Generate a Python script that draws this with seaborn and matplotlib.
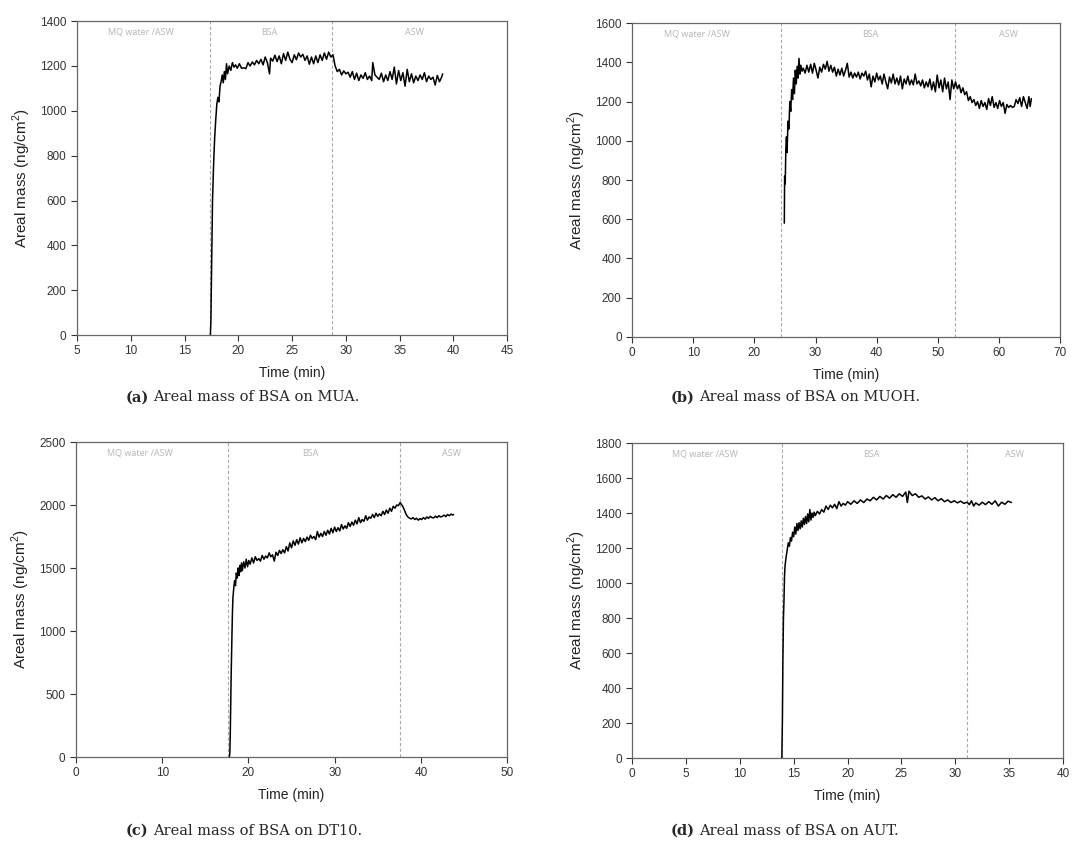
import pandas as pd
import matplotlib
matplotlib.use("Agg")
import matplotlib.pyplot as plt
import seaborn as sns

# ---- data (time in min, areal mass in ng/cm2) ----
a_time = [17.40, 17.45, 17.50, 17.55, 17.60, 17.70, 17.80, 17.90, 18.00, 18.10, 18.20, 18.30, 18.40, 18.50,
          18.60, 18.70, 18.80, 18.90, 19.00, 19.15, 19.30, 19.45, 19.60, 19.75, 19.90, 20.10, 20.30, 20.50,
          20.70, 20.90, 21.10, 21.30, 21.50, 21.70, 21.90, 22.10, 22.30, 22.50, 22.70, 22.90, 23.00, 23.20,
          23.40, 23.60, 23.80, 24.00, 24.20, 24.40, 24.60, 24.80, 25.00, 25.20, 25.40, 25.60, 25.80, 26.00,
          26.20, 26.40, 26.60, 26.80, 27.00, 27.20, 27.40, 27.60, 27.80, 28.00, 28.20, 28.40, 28.60, 28.80,
          29.00, 29.20, 29.40, 29.60, 29.80, 30.00, 30.20, 30.40, 30.60, 30.80, 31.00, 31.20, 31.40, 31.60,
          31.80, 32.00, 32.20, 32.40, 32.50, 32.70, 32.90, 33.10, 33.30, 33.50, 33.70, 33.90, 34.10, 34.30,
          34.50, 34.70, 34.90, 35.10, 35.30, 35.50, 35.70, 35.90, 36.10, 36.30, 36.50, 36.70, 36.90, 37.10,
          37.30, 37.50, 37.70, 37.90, 38.10, 38.30, 38.50, 38.70, 38.90, 39.00]
a_mass = [0, 60, 250, 420, 600, 760, 880, 960, 1030, 1060, 1040, 1110, 1130, 1160,
          1125, 1175, 1140, 1210, 1165, 1200, 1180, 1215, 1195, 1205, 1190, 1210, 1190, 1192,
          1188, 1215, 1200, 1218, 1205, 1225, 1210, 1230, 1205, 1240, 1215, 1165, 1235, 1222,
          1248, 1220, 1245, 1210, 1255, 1225, 1262, 1230, 1215, 1250, 1228, 1258, 1240, 1252,
          1225, 1245, 1208, 1240, 1210, 1245, 1215, 1250, 1225, 1258, 1230, 1262, 1240, 1250,
          1200, 1175, 1185, 1160, 1178, 1165, 1172, 1150, 1175, 1140, 1168, 1135, 1160, 1145,
          1170, 1140, 1155, 1135, 1215, 1160, 1150, 1140, 1168, 1130, 1160, 1135, 1175, 1140,
          1195, 1120, 1180, 1135, 1170, 1110, 1185, 1130, 1165, 1125, 1155, 1135, 1160, 1140,
          1170, 1130, 1155, 1140, 1150, 1115, 1158, 1130, 1150, 1165]

b_time = [24.90, 24.95, 25.05, 25.15, 25.25, 25.35, 25.50, 25.65, 25.80, 25.95, 26.10, 26.25, 26.40, 26.55,
          26.70, 26.85, 27.00, 27.15, 27.30, 27.45, 27.60, 27.80, 28.00, 28.30, 28.60, 28.90, 29.20, 29.50,
          29.80, 30.10, 30.40, 30.70, 31.00, 31.30, 31.60, 31.90, 32.20, 32.50, 32.80, 33.10, 33.40, 33.70,
          34.00, 34.30, 34.60, 34.90, 35.20, 35.50, 35.80, 36.10, 36.40, 36.70, 37.00, 37.30, 37.60, 37.90,
          38.20, 38.50, 38.80, 39.10, 39.40, 39.70, 40.00, 40.30, 40.60, 40.90, 41.20, 41.50, 41.80, 42.10,
          42.40, 42.70, 43.00, 43.30, 43.60, 43.90, 44.20, 44.50, 44.80, 45.10, 45.40, 45.70, 46.00, 46.30,
          46.60, 46.90, 47.20, 47.50, 47.80, 48.10, 48.40, 48.70, 49.00, 49.30, 49.60, 49.90, 50.20, 50.50,
          50.80, 51.10, 51.40, 51.70, 52.00, 52.30, 52.60, 52.90, 53.20, 53.50, 53.80, 54.10, 54.40, 54.70,
          55.00, 55.30, 55.60, 55.90, 56.20, 56.50, 56.80, 57.10, 57.40, 57.70, 58.00, 58.30, 58.60, 58.90,
          59.20, 59.50, 59.80, 60.10, 60.40, 60.70, 61.00, 61.30, 61.60, 61.90, 62.20, 62.50, 62.80, 63.10,
          63.40, 63.70, 64.00, 64.30, 64.60, 64.90, 65.10, 65.30]
b_mass = [580, 820, 780, 960, 1020, 940, 1100, 1060, 1200, 1150, 1260, 1210, 1320, 1240,
          1360, 1290, 1380, 1320, 1420, 1340, 1385, 1355, 1370, 1345, 1385, 1350, 1390, 1345,
          1395, 1360, 1320, 1375, 1350, 1390, 1365, 1405, 1355, 1385, 1350, 1375, 1330, 1365,
          1335, 1370, 1330, 1360, 1395, 1325, 1350, 1320, 1345, 1325, 1350, 1315, 1345, 1330,
          1355, 1310, 1340, 1275, 1330, 1300, 1345, 1310, 1330, 1290, 1340, 1300, 1265, 1325,
          1295, 1340, 1290, 1320, 1285, 1330, 1265, 1315, 1290, 1330, 1285, 1310, 1285, 1340,
          1290, 1305, 1280, 1310, 1270, 1300, 1275, 1315, 1260, 1300, 1250, 1335, 1270, 1310,
          1250, 1320, 1265, 1300, 1210, 1310, 1265, 1300, 1265, 1285, 1245, 1270, 1235, 1250,
          1205, 1225, 1195, 1210, 1180, 1200, 1165, 1205, 1175, 1195, 1160, 1215, 1180, 1225,
          1170, 1195, 1165, 1205, 1175, 1195, 1140, 1185, 1170, 1180, 1170, 1175, 1210, 1190,
          1220, 1175, 1225, 1195, 1165, 1225, 1175, 1215]

c_time = [17.80, 17.85, 17.90, 17.95, 18.00, 18.05, 18.10, 18.15, 18.20, 18.30, 18.40, 18.50, 18.60, 18.70,
          18.80, 18.90, 19.00, 19.10, 19.20, 19.30, 19.45, 19.60, 19.75, 19.90, 20.05, 20.20, 20.40, 20.60,
          20.80, 21.00, 21.20, 21.40, 21.60, 21.80, 22.00, 22.20, 22.40, 22.60, 22.80, 23.00, 23.20, 23.40,
          23.60, 23.80, 24.00, 24.20, 24.40, 24.60, 24.80, 25.00, 25.20, 25.40, 25.60, 25.80, 26.00, 26.20,
          26.40, 26.60, 26.80, 27.00, 27.20, 27.40, 27.60, 27.80, 28.00, 28.20, 28.40, 28.60, 28.80, 29.00,
          29.20, 29.40, 29.60, 29.80, 30.00, 30.20, 30.40, 30.60, 30.80, 31.00, 31.20, 31.40, 31.60, 31.80,
          32.00, 32.20, 32.40, 32.60, 32.80, 33.00, 33.20, 33.40, 33.60, 33.80, 34.00, 34.20, 34.40, 34.60,
          34.80, 35.00, 35.20, 35.40, 35.60, 35.80, 36.00, 36.20, 36.40, 36.60, 36.80, 37.00, 37.20, 37.40,
          37.60, 37.75, 37.90, 38.10, 38.30, 38.50, 38.70, 38.90, 39.10, 39.30, 39.50, 39.70, 39.90, 40.10,
          40.30, 40.50, 40.70, 40.90, 41.10, 41.30, 41.50, 41.70, 41.90, 42.10, 42.30, 42.50, 42.70, 42.90,
          43.10, 43.30, 43.50, 43.70, 43.80]
c_mass = [0, 40, 200, 450, 650, 850, 1000, 1150, 1260, 1340, 1400, 1360, 1460, 1420,
          1500, 1440, 1520, 1470, 1540, 1480, 1550, 1500, 1570, 1510, 1560, 1530, 1580, 1540,
          1590, 1560, 1575, 1555, 1600, 1570, 1595, 1580, 1620, 1590, 1605, 1555, 1625, 1600,
          1640, 1615, 1645, 1620, 1670, 1635, 1700, 1660, 1715, 1680, 1725, 1690, 1740, 1700,
          1735, 1710, 1745, 1720, 1760, 1735, 1750, 1725, 1790, 1745, 1775, 1750, 1790, 1760,
          1800, 1770, 1815, 1780, 1825, 1790, 1820, 1795, 1845, 1810, 1835, 1815, 1860, 1830,
          1865, 1840, 1880, 1850, 1900, 1860, 1885, 1870, 1915, 1880, 1905, 1895, 1925, 1900,
          1935, 1910, 1930, 1915, 1950, 1925, 1960, 1935, 1975, 1950, 1990, 1975, 2000, 1995,
          2020, 2005, 1990, 1960, 1925, 1905, 1895, 1890, 1900, 1885, 1895, 1880, 1892, 1885,
          1900, 1888, 1905, 1895, 1910, 1900, 1898, 1912, 1900, 1915, 1905, 1910, 1920, 1908,
          1925, 1915, 1928, 1920, 1925]

d_time = [13.90, 13.95, 14.00, 14.05, 14.10, 14.15, 14.20, 14.30, 14.40, 14.50, 14.60, 14.70, 14.80, 14.90,
          15.00, 15.10, 15.20, 15.30, 15.40, 15.50, 15.60, 15.70, 15.80, 15.90, 16.00, 16.10, 16.20, 16.30,
          16.40, 16.50, 16.60, 16.70, 16.80, 16.90, 17.00, 17.20, 17.40, 17.60, 17.80, 18.00, 18.20, 18.40,
          18.60, 18.80, 19.00, 19.20, 19.40, 19.60, 19.80, 20.00, 20.30, 20.60, 20.90, 21.20, 21.50, 21.80,
          22.10, 22.40, 22.70, 23.00, 23.30, 23.60, 23.90, 24.20, 24.50, 24.80, 25.10, 25.40, 25.55, 25.70,
          26.00, 26.30, 26.60, 26.90, 27.20, 27.50, 27.80, 28.10, 28.40, 28.70, 29.00, 29.30, 29.60, 29.90,
          30.20, 30.50, 30.80, 31.10, 31.30, 31.50, 31.70, 31.90, 32.20, 32.50, 32.80, 33.10, 33.40, 33.70,
          34.00, 34.30, 34.60, 34.90, 35.20]
d_mass = [0, 200, 560, 800, 900, 1040, 1100, 1150, 1190, 1230, 1210, 1260, 1240, 1290,
          1265, 1320, 1280, 1340, 1300, 1345, 1310, 1355, 1320, 1370, 1335, 1380, 1340, 1395,
          1350, 1420, 1360, 1400, 1375, 1405, 1385, 1410, 1395, 1420, 1405, 1440, 1420, 1445,
          1430, 1450, 1425, 1465, 1440, 1455, 1445, 1465, 1450, 1470, 1455, 1475, 1460, 1480,
          1470, 1490, 1475, 1495, 1480, 1500, 1485, 1505, 1490, 1510, 1495, 1520, 1460, 1525,
          1500, 1510, 1490, 1498, 1480, 1492, 1475, 1488, 1470, 1482, 1465, 1475, 1460, 1470,
          1458, 1468, 1455, 1462, 1448, 1470, 1440, 1458, 1445, 1462, 1448, 1465, 1450, 1470,
          1440, 1462, 1450, 1468, 1460]

# phase boundaries (min)
a_switch = [17.4, 28.7]
b_switch = [24.4, 52.8]
c_switch = [17.65, 37.6]
d_switch = [13.9, 31.05]

phase_labels = ["MQ water /ASW", "BSA", "ASW"]
captions = [("(a)", "Areal mass of BSA on MUA."), ("(b)", "Areal mass of BSA on MUOH."),
            ("(c)", "Areal mass of BSA on DT10."), ("(d)", "Areal mass of BSA on AUT.")]

sns.set_style("white")
plt.rcParams['font.family'] = ['Liberation Sans', 'DejaVu Sans']
plt.rcParams['mathtext.fontset'] = 'custom'
plt.rcParams['mathtext.rm'] = 'Liberation Sans'

fig = plt.figure(figsize=(10.92, 8.46), dpi=100)

panels = [
    dict(t=a_time, m=a_mass, sw=a_switch, xlim=(5, 45), xstep=5, ylim=(0, 1400), ystep=200,
         lab_x=[10.95, 22.9, 36.4], rect=[0.0705, 0.604, 0.394, 0.371], cap_x=0.136, cap_y=0.522),
    dict(t=b_time, m=b_mass, sw=b_switch, xlim=(0, 70), xstep=10, ylim=(0, 1600), ystep=200,
         lab_x=[10.6, 38.9, 61.5], rect=[0.5788, 0.6017, 0.392, 0.371], cap_x=0.636, cap_y=0.522),
    dict(t=c_time, m=c_mass, sw=c_switch, xlim=(0, 50), xstep=10, ylim=(0, 2500), ystep=500,
         lab_x=[7.4, 27.2, 43.5], rect=[0.0696, 0.1052, 0.3947, 0.3723], cap_x=0.136, cap_y=0.01),
    dict(t=d_time, m=d_mass, sw=d_switch, xlim=(0, 40), xstep=5, ylim=(0, 1800), ystep=200,
         lab_x=[6.8, 22.2, 35.5], rect=[0.5788, 0.104, 0.3947, 0.3723], cap_x=0.636, cap_y=0.01),
]

for p, (tag, cap) in zip(panels, captions):
    ax = fig.add_axes(p['rect'])
    df = pd.DataFrame({'Time': p['t'], 'Mass': p['m']})
    sns.lineplot(data=df, x='Time', y='Mass', ax=ax, color='black', linewidth=1.1,
                 estimator=None, sort=False)
    for s in p['sw']:
        ax.axvline(s, color='#aaaaaa', linestyle=(0, (3, 2)), linewidth=0.8, zorder=0)
    for lx, lt in zip(p['lab_x'], phase_labels):
        ax.text(lx, 0.965, lt, transform=ax.get_xaxis_transform(), ha='center', va='center',
                fontsize=6.5, color='#b5b5b5', family=['Open Sans', 'DejaVu Sans'])
    ax.set_xlim(*p['xlim'])
    ax.set_ylim(*p['ylim'])
    ax.set_xticks(range(p['xlim'][0], p['xlim'][1] + 1, p['xstep']))
    ax.set_yticks(range(p['ylim'][0], p['ylim'][1] + 1, p['ystep']))
    ax.tick_params(direction='out', length=4, width=0.8, labelsize=8.5, colors='#333333',
                   bottom=True, left=True)
    for sp in ax.spines.values():
        sp.set_color('#666666')
        sp.set_linewidth(0.9)
    ax.set_xlabel('Time (min)', fontsize=10, color='#222222', labelpad=6)
    ax.set_ylabel('Areal mass (ng/cm$^2$)', fontsize=11, color='#222222', labelpad=5)
    fig.text(p['cap_x'], p['cap_y'], tag, ha='right', va='bottom', fontsize=10.5,
             fontweight='bold', family=['DejaVu Serif'])
    fig.text(p['cap_x'] + 0.004, p['cap_y'], cap, ha='left', va='bottom', fontsize=10.5,
             family=['DejaVu Serif'])

fig.savefig('out.png', dpi=100)
